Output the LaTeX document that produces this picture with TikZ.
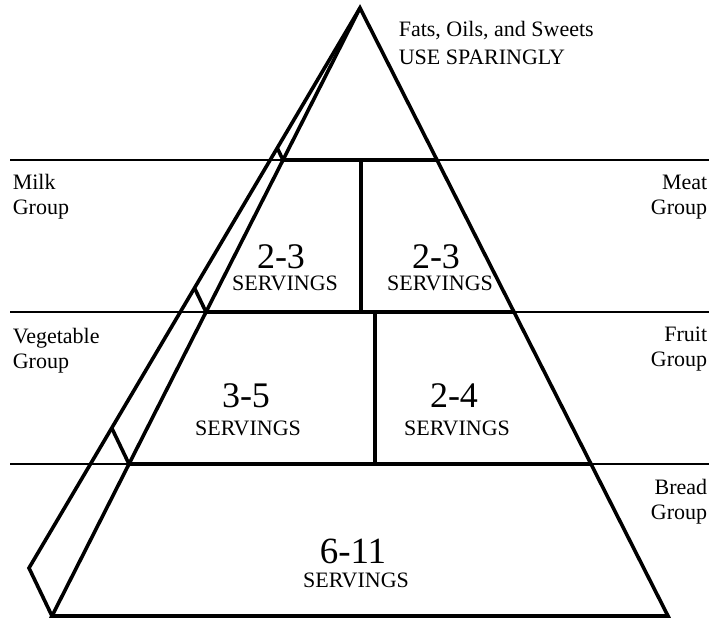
\documentclass[tikz,border=0pt]{standalone}
\usepackage{fontspec}
\setmainfont{Liberation Serif}
\usetikzlibrary{calc}

\begin{document}
\begin{tikzpicture}[x=1pt,y=-1pt]
\tikzstyle{every path}=[line width=3.6pt]
\tikzstyle{shelf}=[line width=1.2pt]
\tikzstyle{grouplabel}=[inner sep=0pt,font=\fontsize{22}{25}\selectfont]
\tikzstyle{servnum}=[inner sep=0pt,anchor=base,font=\fontsize{36}{40}\selectfont]
\tikzstyle{servtxt}=[inner sep=0pt,anchor=base,font=\fontsize{22}{25}\selectfont]

\useasboundingbox (0,0) rectangle (712,619);

%% Corners of the pyramid
\coordinate (top) at (360,8);
\coordinate (botleft) at (52,616);
\coordinate (botright) at (668,616);
\coordinate (side) at (29,568);

%% Thin lines across the page
\foreach \lvl in {1,2,3}
    \draw[shelf] (10,8+152*\lvl) -- (709,8+152*\lvl);

%% Pyramid and its side face
\draw (top) -- (botleft) -- (botright) -- cycle;
\draw (top) -- (side) -- (botleft);

%% Tiers
\foreach \t in {0.25,0.5,0.75} {
    \draw ($(top)!\t!(botleft)$) -- ($(top)!\t!(botright)$);
    \draw ($(top)!\t!(side)$) -- ($(top)!\t!(botleft)$);
}

%% Split the two middle tiers
\coordinate (upsplit) at (361,160);
\coordinate (lowsplit) at (375,312);
\draw (upsplit) -- (upsplit |- lowsplit);
\draw (lowsplit) -- ($(lowsplit)+(0,152)$);

%% Group names (base is the last line)
\node [grouplabel,anchor=base west,align=left,font=\fontsize{22}{28}\selectfont] (fats) at (397,64) {Fats, Oils, and Sweets\\USE SPARINGLY};
\node [grouplabel,anchor=base west,align=left] (milk) at (11,214) {Milk\\Group};
\node [grouplabel,anchor=base west,align=left] (veg) at (11,368) {Vegetable\\Group};
\node [grouplabel,anchor=base east,align=right] (meat) at (709,214) {Meat\\Group};
\node [grouplabel,anchor=base east,align=right] (fruit) at (709,366) {Fruit\\Group};
\node [grouplabel,anchor=base east,align=right] (bread) at (709,519) {Bread\\Group};

%% Servings
\node [servnum] (milknum) at (281,268) {2-3};
\node [servtxt] (milkserv) at (285,290) {SERVINGS};
\node [servnum] (meatnum) at (436,268) {2-3};
\node [servtxt] (meatserv) at (440,290) {SERVINGS};
\node [servnum] (vegnum) at (246,407) {3-5};
\node [servtxt] (vegserv) at (248,435) {SERVINGS};
\node [servnum] (fruitnum) at (454,407) {2-4};
\node [servtxt] (fruitserv) at (457,435) {SERVINGS};
\node [servnum,font=\fontsize{37}{40}\selectfont] (breadnum) at (353,563) {6-11};
\node [servtxt] (breadserv) at (356,587) {SERVINGS};
\end{tikzpicture}
\end{document}
